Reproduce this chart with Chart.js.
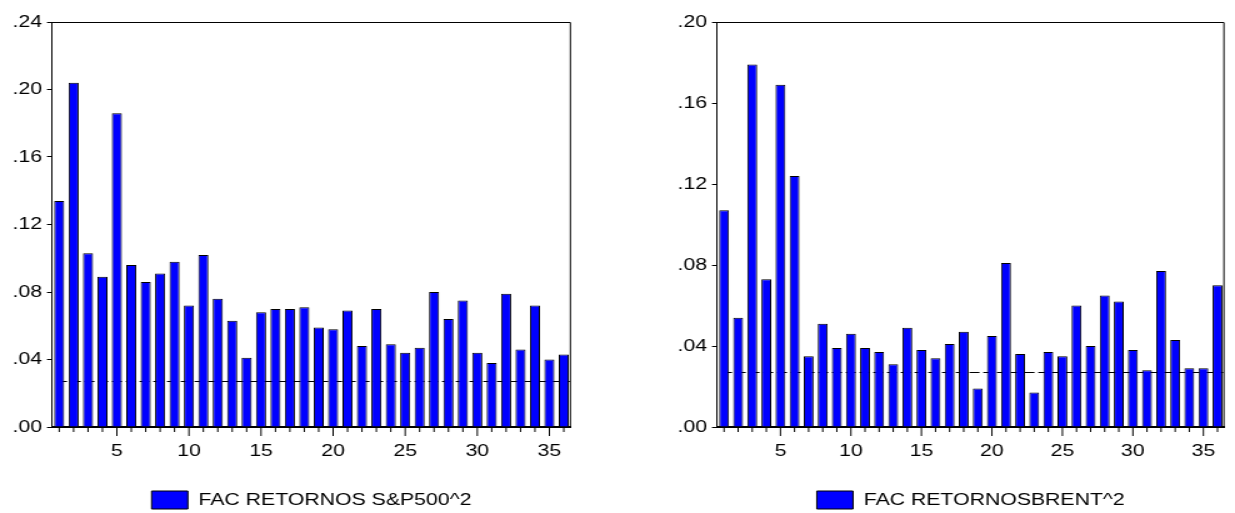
<!DOCTYPE html>
<html>
<head>
<meta charset="utf-8">
<script src="https://cdn.jsdelivr.net/npm/chart.js@4"></script>
<style>
  html, body { margin: 0; padding: 0; background: #fff; overflow: hidden; width: 1235px; height: 513px; }
  .wrap { position: absolute; top: 0; transform-origin: 0 0; }
</style>
</head>
<body>
<div class="wrap" id="w1"><canvas id="c1"></canvas></div>
<div class="wrap" id="w2"><canvas id="c2"></canvas></div>
<script>
// ---- data ----
const LAGS = ['1','2','3','4','5','6','7','8','9','10','11','12','13','14','15','16','17','18',
              '19','20','21','22','23','24','25','26','27','28','29','30','31','32','33','34','35','36'];
const SP500_ACF = [0.134, 0.204, 0.103, 0.089, 0.186, 0.096, 0.086, 0.091, 0.098, 0.072, 0.102, 0.076,
                   0.063, 0.041, 0.068, 0.070, 0.070, 0.071, 0.059, 0.058, 0.069, 0.048, 0.070, 0.049,
                   0.044, 0.047, 0.080, 0.064, 0.075, 0.044, 0.038, 0.079, 0.046, 0.072, 0.040, 0.043];
const BRENT_ACF = [0.107, 0.054, 0.179, 0.073, 0.169, 0.124, 0.035, 0.051, 0.039, 0.046, 0.039, 0.037,
                   0.031, 0.049, 0.038, 0.034, 0.041, 0.047, 0.019, 0.045, 0.081, 0.036, 0.017, 0.037,
                   0.035, 0.060, 0.040, 0.065, 0.062, 0.038, 0.028, 0.077, 0.043, 0.029, 0.029, 0.070];
const SP500_LABEL = 'FAC RETORNOS S&P500^2';
const BRENT_LABEL = 'FAC RETORNOSBRENT^2';
const SP500_YTICKS = [0, 0.24, 0.04];   // min, max, step
const BRENT_YTICKS = [0, 0.20, 0.04];
const BAND = 0.027;                     // dashed significance line

// the reference graphs are stretched horizontally
const SX = 1.25;

Chart.defaults.font.family = "'Liberation Sans', Arial, sans-serif";
Chart.defaults.font.size = 17;
Chart.defaults.color = '#000';

const decorPlugin = {
  id: 'decor',
  beforeDatasetsDraw(chart) {
    const {ctx, chartArea: a, scales: {y}} = chart;
    const yy = Math.round(y.getPixelForValue(chart.options.plugins.decor.band)) + 0.5;
    ctx.save();
    ctx.strokeStyle = '#000';
    ctx.lineWidth = 1;
    ctx.setLineDash([8, 3]);
    ctx.beginPath();
    ctx.moveTo(a.left + 4, yy);
    ctx.lineTo(a.right - 1, yy);
    ctx.stroke();
    ctx.restore();
  },
  afterDraw(chart) {
    const {ctx, chartArea: a, scales: {x}} = chart;
    ctx.save();
    ctx.strokeStyle = '#000';
    ctx.lineWidth = 1;
    ctx.beginPath();
    ctx.moveTo(a.left, Math.round(a.top) + 0.5);
    ctx.lineTo(a.right - 0.5, Math.round(a.top) + 0.5);
    ctx.lineTo(a.right - 0.5, a.bottom);
    ctx.stroke();
    const n = chart.data.labels.length;
    ctx.beginPath();
    for (let i = 0; i < n; i++) {
      const px = x.getPixelForValue(i);
      const len = ((i + 1) % 5 === 0) ? 9 : 5;
      ctx.moveTo(px, a.bottom);
      ctx.lineTo(px, a.bottom + len);
    }
    ctx.stroke();
    ctx.restore();
  }
};

function makeChart(id, wrapId, left, visWidth, values, label, yt, rightPadVis) {
  const w = Math.round(visWidth / SX), h = 540;
  const wrap = document.getElementById(wrapId);
  wrap.style.left = left + 'px';
  wrap.style.width = w + 'px';
  wrap.style.height = h + 'px';
  wrap.style.transform = 'scaleX(' + SX + ')';
  const cv = document.getElementById(id);
  cv.width = w; cv.height = h;
  cv.style.width = w + 'px'; cv.style.height = h + 'px';
  return new Chart(cv, {
    type: 'bar',
    data: {
      labels: LAGS,
      datasets: [{
        label: label,
        data: values,
        backgroundColor: '#0000FF',
        borderColor: '#000',
        borderWidth: 1,
        barPercentage: 0.7,
        categoryPercentage: 1.0
      }]
    },
    options: {
      responsive: false,
      animation: false,
      events: [],
      layout: { padding: { top: 22, right: rightPadVis / SX, left: 0, bottom: 21 } },
      plugins: {
        tooltip: { enabled: false },
        decor: { band: BAND },
        legend: {
          position: 'bottom',
          fullSize: false,
          labels: { boxWidth: Math.round(36 / SX), boxHeight: 18, padding: 10, color: '#000', font: { size: 17 } }
        }
      },
      scales: {
        x: {
          grid: { display: true, drawOnChartArea: false, drawTicks: false },
          border: { display: true, color: '#000', width: 2 },
          ticks: {
            autoSkip: false, maxRotation: 0, padding: 14,
            callback: function(v, i) { return ((i + 1) % 5 === 0) ? this.getLabelForValue(v) : ''; }
          },
          afterFit(s) { s.height = 54; }
        },
        y: {
          min: yt[0], max: yt[1],
          grid: { drawOnChartArea: false, drawTicks: true, tickLength: 4, color: '#000' },
          border: { display: true, color: '#000', width: 1 },
          ticks: {
            stepSize: yt[2], padding: 4,
            callback: v => v.toFixed(2).replace(/^0/, '')
          },
          afterFit(s) { s.width = 52 / SX; }
        }
      }
    },
    plugins: [decorPlugin]
  });
}

makeChart('c1', 'w1', 0, 600, SP500_ACF, SP500_LABEL, SP500_YTICKS, 29);
makeChart('c2', 'w2', 665, 570, BRENT_ACF, BRENT_LABEL, BRENT_YTICKS, 1);
</script>
</body>
</html>
